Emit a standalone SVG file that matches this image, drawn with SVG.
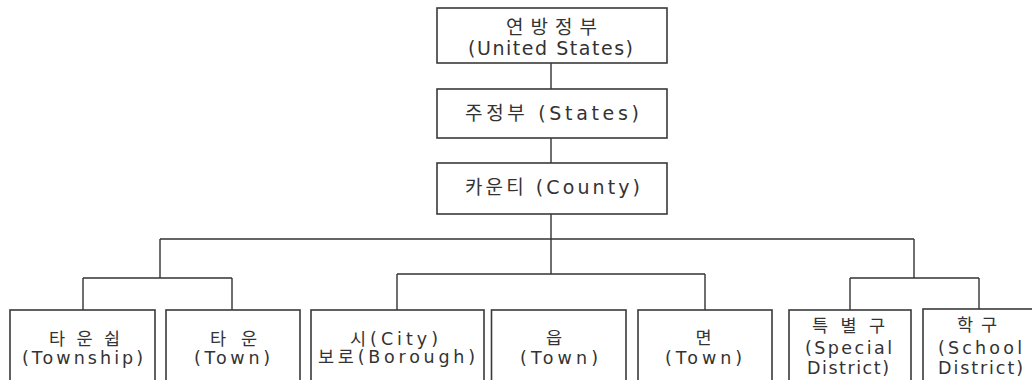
<svg xmlns="http://www.w3.org/2000/svg" width="1032" height="380" viewBox="0 0 1032 380">
<style>
.box{fill:#fff;stroke:#3a3a3a;stroke-width:1.6}
.ln{fill:none;stroke:#333;stroke-width:1.4}
text{font-family:"DejaVu Sans","Noto Sans CJK KR",sans-serif;font-size:17.5px;fill:#333;text-anchor:middle}
.t{font-size:19px}
</style>
<rect width="1032" height="380" fill="#fff"/>
<g id="connectors">
<path class="ln" d="M551 63V89M551 138V163M551 214V274M160 239H914M160 239V278M83 278H232M83 278V310M232 278V310M397 274H705M397 274V310M705 274V310M914 239V278M850 278H979M850 278V310M979 278V309"/>
</g>
<g id="n-federal">
<rect class="box" x="437" y="8" width="230" height="55"/>
<text class="t" x="551.5" y="33.5" textLength="91" lengthAdjust="spacing">연방정부</text>
<text class="t" x="550.5" y="54.5" font-size="18.5" textLength="165" lengthAdjust="spacing">(United States)</text>
</g>
<g id="n-states">
<rect class="box" x="437" y="89" width="230" height="49"/>
<text class="t" x="552" y="120" textLength="174" lengthAdjust="spacing">주정부 (States)</text>
</g>
<g id="n-county">
<rect class="box" x="437" y="163" width="230" height="51"/>
<text class="t" x="552.5" y="194" textLength="175" lengthAdjust="spacing">카운티 (County)</text>
</g>
<g id="n-township">
<rect class="box" x="10" y="310" width="145" height="80"/>
<text x="84.5" y="345" textLength="71" lengthAdjust="spacing">타운쉽</text>
<text x="82.5" y="364" textLength="121" lengthAdjust="spacing">(Township)</text>
</g>
<g id="n-town">
<rect class="box" x="166" y="310" width="134" height="80"/>
<text x="233.5" y="345" textLength="47" lengthAdjust="spacing">타운</text>
<text x="232" y="364" textLength="76" lengthAdjust="spacing">(Town)</text>
</g>
<g id="n-city">
<rect class="box" x="311" y="310" width="173" height="80"/>
<text x="394" y="345" textLength="88" lengthAdjust="spacing">시(City)</text>
<text x="396.5" y="363" textLength="157" lengthAdjust="spacing">보로(Borough)</text>
</g>
<g id="n-eup">
<rect class="box" x="491.5" y="310" width="134.5" height="80"/>
<text x="554" y="344">읍</text>
<text x="559" y="364" textLength="78" lengthAdjust="spacing">(Town)</text>
</g>
<g id="n-myeon">
<rect class="box" x="638" y="310" width="134" height="80"/>
<text x="703.5" y="344">면</text>
<text x="703.5" y="364" textLength="77" lengthAdjust="spacing">(Town)</text>
</g>
<g id="n-special">
<rect class="box" x="789" y="310" width="122" height="80"/>
<text x="848.5" y="332" textLength="73" lengthAdjust="spacing">특별구</text>
<text x="848.5" y="354" textLength="87" lengthAdjust="spacing">(Special</text>
<text x="848" y="374" textLength="82" lengthAdjust="spacing">District)</text>
</g>
<g id="n-school">
<rect class="box" x="923" y="309" width="130" height="80"/>
<text x="977" y="331" textLength="40" lengthAdjust="spacing">학구</text>
<text x="980" y="354" textLength="84" lengthAdjust="spacing">(School</text>
<text x="980.5" y="374" textLength="85" lengthAdjust="spacing">District)</text>
</g>
</svg>
